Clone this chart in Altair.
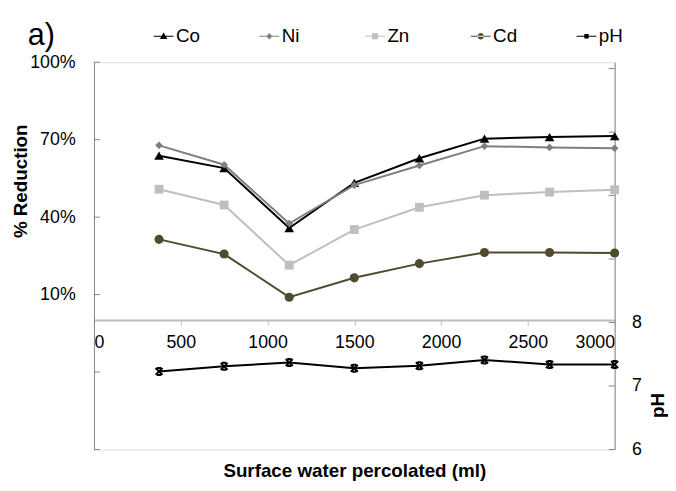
import altair as alt
import pandas as pd

# ---- data ----
volume = [375, 750, 1125, 1500, 1875, 2250, 2625, 3000]
co = [63.8, 59.0, 35.8, 53.3, 62.8, 70.4, 71.0, 71.4]
ni = [67.8, 60.3, 37.5, 52.4, 60.0, 67.5, 67.0, 66.7]
zn = [50.8, 44.7, 21.4, 35.2, 43.8, 48.5, 49.7, 50.6]
cd = [31.4, 25.7, 9.0, 16.5, 22.0, 26.3, 26.3, 26.1]
ph = [7.23, 7.31, 7.37, 7.28, 7.32, 7.41, 7.34, 7.34]

series = ["Co", "Ni", "Zn", "Cd", "pH"]
colors = ["#000000", "#7f7f7f", "#bfbfbf", "#4f4b2c", "#000000"]
left_ticks = [-0.5, -0.2, 0.1, 0.4, 0.7, 1.0]
right_ticks = [6, 7, 8, 9, 10, 11, 12]
x_ticks = [0, 500, 1000, 1500, 2000, 2500, 3000]
panel_label = ["a)"]

FONT = "Liberation Sans"
AXIS_GRAY = "#868686"
W, H = 527, 392

point_shapes = {
    "Co": "triangle-up",
    "Ni": "diamond",
    "Zn": "square",
    "Cd": "circle",
    "pH": "M-1,-1L1,1M-1,1L1,-1M-0.6,-1L0.6,-1M-0.6,1L0.6,1",
}
point_sizes = {"Co": 95, "Ni": 60, "Zn": 80, "Cd": 85, "pH": 50}

LINE = "M-2.5,-0.13H2.5V0.13H-2.5Z"
legend_paths = [
    LINE + "M0,-0.95L0.95,0.7L-0.95,0.7Z",
    LINE + "M0,-0.8L0.75,0L0,0.8L-0.75,0Z",
    LINE + "M-0.75,-0.75H0.75V0.75H-0.75Z",
    LINE + "M-0.8,0A0.8,0.8 0 1,0 0.8,0A0.8,0.8 0 1,0 -0.8,0Z",
    LINE + "M-0.55,-0.55H0.55V0.55H-0.55Z",
]

metal_values = {"Co": co, "Ni": ni, "Zn": zn, "Cd": cd}

x_axis = alt.Axis(
    values=x_ticks, orient="bottom", offset=-131, grid=False, format="d",
    domainColor="#bdbdbd", domainWidth=2, tickColor="#bdbdbd", tickSize=5,
    labelFont=FONT, labelFontSize=18, labelColor="#000000", labelPadding=9,
    title="Surface water percolated (ml)", titleFont=FONT, titleFontSize=19,
    titleFontWeight="bold", titleColor="#000000", titleY=158,
    titleBaseline="alphabetic",
)
x_scale = alt.Scale(domain=[0, 3000], nice=False, zero=False)

yl_scale = alt.Scale(domain=[-0.5, 1.0], nice=False, zero=False)
yl_axis = alt.Axis(
    orient="left", values=left_ticks, grid=False, ticks=False,
    labelExpr="datum.value > 0 ? format(datum.value, '.0%') : ''",
    domainColor=AXIS_GRAY, labelFont=FONT, labelFontSize=18,
    labelColor="#000000", labelPadding=19,
    title="% Reduction", titleFont=FONT, titleFontSize=19, titleFontWeight="bold",
    titleColor="#000000", titleAngle=270, titleX=-74, titleY=120,
    titleAlign="center", titleBaseline="middle",
)
yr_scale = alt.Scale(domain=[6, 12.1], nice=False, zero=False)
yr_axis = alt.Axis(
    orient="right", values=right_ticks, grid=False, ticks=False,
    labelExpr="datum.value <= 8 ? datum.label : ''",
    domainColor=AXIS_GRAY, labelFont=FONT, labelFontSize=18,
    labelColor="#000000", labelPadding=17,
    title="pH", titleFont=FONT, titleFontSize=19, titleFontWeight="bold",
    titleColor="#000000", titleAngle=270, titleX=43, titleY=347,
    titleAlign="center", titleBaseline="middle",
)

X = alt.X("volume:Q", scale=x_scale, axis=x_axis)

left_layers = []
for s in ["Co", "Ni", "Zn", "Cd"]:
    df = pd.DataFrame({"volume": volume, "value": [v / 100 for v in metal_values[s]]})
    c = colors[series.index(s)]
    base = alt.Chart(df).encode(x=X, y=alt.Y("value:Q", scale=yl_scale, axis=yl_axis))
    left_layers.append(base.mark_line(color=c, strokeWidth=2))
    left_layers.append(base.mark_point(shape=point_shapes[s], filled=True, color=c,
                                       size=point_sizes[s], opacity=1))

lt_df = pd.DataFrame({"value": left_ticks})
left_layers.append(
    alt.Chart(lt_df).mark_rule(color=AXIS_GRAY, strokeWidth=1).encode(
        y=alt.Y("value:Q", scale=yl_scale, axis=yl_axis),
        x=alt.value(0), x2=alt.value(6),
    )
)

legend_df = pd.DataFrame({"series": series})
left_layers.append(
    alt.Chart(legend_df).mark_point(filled=True, opacity=1, size=64).encode(
        x=alt.value(-2000), y=alt.value(-2000),
        color=alt.Color("series:N", scale=alt.Scale(domain=series, range=colors),
                        legend=alt.Legend(
                            title=None, orient="none", direction="horizontal",
                            legendX=61, legendY=-36, symbolSize=64,
                            symbolStrokeWidth=0, labelOffset=3, columnPadding=59,
                            gridAlign="all", labelFont=FONT, labelFontSize=19,
                            labelColor="#000000", padding=0)),
        shape=alt.Shape("series:N", scale=alt.Scale(domain=series, range=legend_paths)),
    )
)

label_df = pd.DataFrame({"label": panel_label})
left_layers.append(
    alt.Chart(label_df).mark_text(align="left", baseline="alphabetic", font=FONT,
                                  fontSize=31, color="#000000").encode(
        x=alt.value(-67), y=alt.value(-17), text="label:N")
)
left = alt.layer(*left_layers)

ph_df = pd.DataFrame({"volume": volume, "ph": ph})
rbase = alt.Chart(ph_df).encode(x=X, y=alt.Y("ph:Q", scale=yr_scale, axis=yr_axis))
rt_df = pd.DataFrame({"ph": right_ticks})
right = alt.layer(
    rbase.mark_line(color="#000000", strokeWidth=2),
    rbase.mark_point(shape=point_shapes["pH"], filled=False, color="#000000",
                     strokeWidth=2, size=point_sizes["pH"], opacity=1),
    alt.Chart(rt_df).mark_rule(color=AXIS_GRAY, strokeWidth=1).encode(
        y=alt.Y("ph:Q", scale=yr_scale, axis=yr_axis),
        x=alt.value(W - 6), x2=alt.value(W),
    ),
)

chart = alt.layer(left, right).resolve_scale(y="independent").properties(
    width=W, height=H,
    padding={"left": 87, "top": 52, "right": 54, "bottom": 31},
    autosize=alt.AutoSizeParams(type="none"),
).configure_view(stroke=None).configure(background="#ffffff")

chart.save("out.html", embed_options={"renderer": "svg", "actions": False})
